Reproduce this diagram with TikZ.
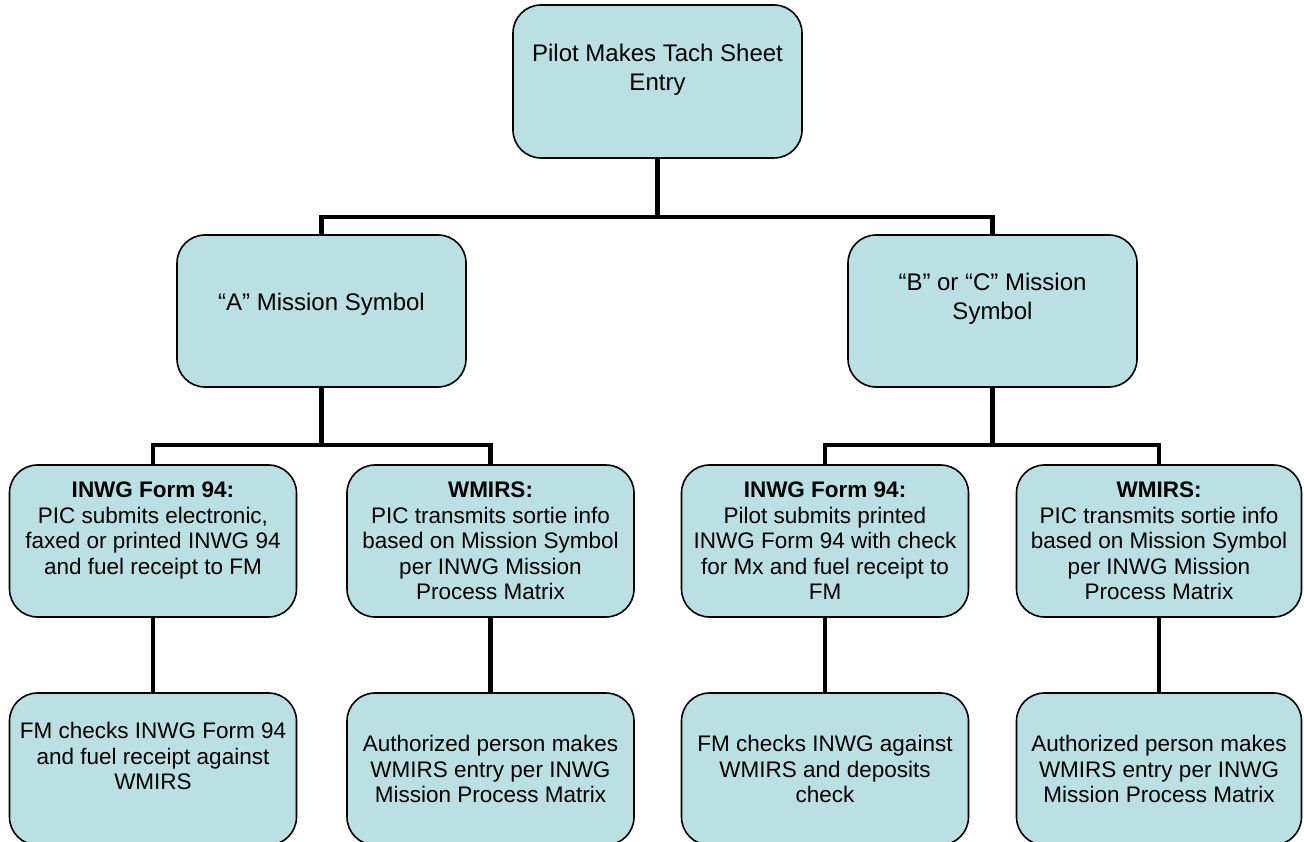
\documentclass[tikz,border=0pt]{standalone}
\usepackage{fontspec}
\setmainfont{Liberation Sans}
\usetikzlibrary{positioning}

\definecolor{boxfill}{RGB}{187,224,227}

\tikzset{
  stepbox/.style={draw=black, line width=1.6pt, fill=boxfill, rounded corners=28pt,
    align=center, inner sep=0pt, minimum height=152pt},
  upper/.style={stepbox, minimum width=289pt, font=\fontsize{24}{29}\selectfont},
  lower/.style={stepbox, minimum width=287pt, font=\fontsize{22.5}{25.5}\selectfont},
  wire/.style={draw=black, line width=4.6pt}
}

\begin{document}
\begin{tikzpicture}[x=1pt, y=-1pt]
			% Frame of the page
			\clip (0,0) rectangle (1304,842);

			% Draw the top box
			\node[upper, minimum height=153pt] (Entry) at (657.5, 81.5) {Pilot Makes Tach Sheet\\Entry\\\mbox{}};

			% Draw the mission symbol boxes
			\node[upper] (MissionA) at (321.5, 311) {“A” Mission Symbol\\[-10pt]\mbox{}};
			\node[upper] (MissionBC) at (992.5, 311) {“B” or “C” Mission\\Symbol\\\mbox{}};

			% Draw the form and WMIRS boxes
			\node[lower] (FormA) at (153, 541) {\textbf{INWG Form 94:}\\PIC submits electronic,\\faxed or printed INWG 94\\and fuel receipt to FM\\\mbox{}};
			\node[lower] (WmirsA) at (490.5, 541) {\textbf{WMIRS:}\\PIC transmits sortie info\\based on Mission Symbol\\per INWG Mission\\Process Matrix};
			\node[lower] (FormBC) at (825, 541) {\textbf{INWG Form 94:}\\Pilot submits printed\\INWG Form 94 with check\\for Mx and fuel receipt to\\FM};
			\node[lower, minimum width=285pt] (WmirsBC) at (1159, 541) {\textbf{WMIRS:}\\PIC transmits sortie info\\based on Mission Symbol\\per INWG Mission\\Process Matrix};

			% Draw the bottom boxes
			\node[lower] (CheckA) at (153, 769) {FM checks INWG Form 94\\and fuel receipt against\\WMIRS\\\mbox{}};
			\node[lower] (PersonA) at (490.5, 769) {Authorized person makes\\WMIRS entry per INWG\\Mission Process Matrix};
			\node[lower] (CheckBC) at (825, 769) {FM checks INWG against\\WMIRS and deposits\\check};
			\node[lower, minimum width=285pt] (PersonBC) at (1159, 769) {Authorized person makes\\WMIRS entry per INWG\\Mission Process Matrix};

			% Points where the wires branch
			\coordinate (BusTop) at (657.5, 217);
			\coordinate (BusA) at (321.5, 445);
			\coordinate (BusBC) at (992.5, 445);

			% Draw the wires between the boxes
			\draw[wire] (Entry.south) -- (BusTop);
			\draw[wire] (MissionA.north) |- (BusTop) -| (MissionBC.north);

			\draw[wire] (MissionA.south) -- (BusA);
			\draw[wire] (FormA.north) |- (BusA) -| (WmirsA.north);
			\draw[wire] (MissionBC.south) -- (BusBC);
			\draw[wire] (FormBC.north) |- (BusBC) -| (WmirsBC.north);

			\draw[wire] (FormA.south) -- (CheckA.north);
			\draw[wire] (WmirsA.south) -- (PersonA.north);
			\draw[wire] (FormBC.south) -- (CheckBC.north);
			\draw[wire] (WmirsBC.south) -- (PersonBC.north);

		\end{tikzpicture}
\end{document}
